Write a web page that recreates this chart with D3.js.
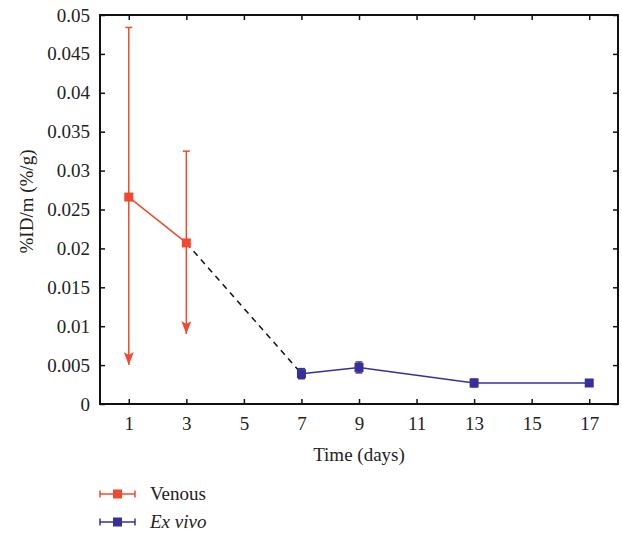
<!DOCTYPE html>
<html>
<head>
<meta charset="utf-8">
<script src="https://cdn.jsdelivr.net/npm/d3@7"></script>
<style>
  body { margin: 0; background: #fff; }
  text { font-family: "Liberation Serif", "DejaVu Serif", serif; fill: #222; }
</style>
</head>
<body>
<div id="chart"></div>
<script>
// data
const venousDays = [1, 3];
const venousMean = [0.0266, 0.0207];
const venousHigh = [0.0484, 0.0325];
const venousLow = [0.0050, 0.0090]; // drawn as arrows

const exvivoDays = [7, 9, 13, 17];
const exvivoMean = [0.0039, 0.0047, 0.0027, 0.0027];
const exvivoErr = [0.00065, 0.0007, 0.0005, 0.0002];

const xTicks = [1, 3, 5, 7, 9, 11, 13, 15, 17];
const yTicks = [0, 0.005, 0.01, 0.015, 0.02, 0.025, 0.03, 0.035, 0.04, 0.045, 0.05];

const red = "#ef4a2e", blue = "#37309a";

const W = 622, H = 533;
const margin = { top: 15, right: 4, bottom: 129, left: 100 },
  width = W - margin.left - margin.right,
  height = H - margin.top - margin.bottom;

const svg = d3.select("#chart").append("svg")
  .attr("width", W).attr("height", H);

svg.append("defs").append("marker")
  .attr("id", "arrow")
  .attr("viewBox", "0 0 10 13")
  .attr("refX", 5).attr("refY", 13)
  .attr("markerWidth", 10).attr("markerHeight", 13)
  .attr("markerUnits", "userSpaceOnUse")
  .attr("orient", "0")
  .append("path")
  .attr("d", "M0,0 L5,3 L10,0 L5,13 Z")
  .attr("fill", red);

const g = svg.append("g").attr("transform", `translate(${margin.left},${margin.top})`);

const x = d3.scaleLinear().domain([0, 18]).range([0, width]);
const y = d3.scaleLinear().domain([0, 0.05]).range([height, 0]);

// axes with inward ticks, mirrored top/right
g.append("g").attr("transform", `translate(0,${height})`)
  .call(d3.axisBottom(x).tickValues(xTicks).tickSize(-5).tickPadding(13).tickFormat(d3.format("d")))
  .call(a => a.selectAll("text").attr("font-size", 19));
g.append("g")
  .call(d3.axisTop(x).tickValues(xTicks).tickSize(-5).tickFormat(""));
g.append("g")
  .call(d3.axisLeft(y).tickValues(yTicks).tickSize(-5).tickPadding(10).tickFormat(d => d === 0 ? "0" : d3.format("")(+d.toFixed(3))))
  .call(a => a.selectAll("text").attr("font-size", 19));
g.append("g").attr("transform", `translate(${width},0)`)
  .call(d3.axisRight(y).tickValues(yTicks).tickSize(-5).tickFormat(""));
g.selectAll(".tick line").attr("stroke", "#111").attr("stroke-width", 1.5);
g.selectAll(".domain").attr("d", null);
g.append("rect").attr("width", width).attr("height", height)
  .attr("fill", "none").attr("stroke", "#111").attr("stroke-width", 2);

// axis titles
g.append("text").attr("x", x(9)).attr("y", height + 57)
  .attr("text-anchor", "middle").attr("font-size", 19).text("Time (days)");
g.append("text")
  .attr("transform", `translate(${-67},${height / 2 - 8}) rotate(-90)`)
  .attr("text-anchor", "middle").attr("font-size", 19).text("%ID/m (%/g)");

// dashed link between series
g.append("line")
  .attr("x1", x(venousDays[1])).attr("y1", y(venousMean[1]))
  .attr("x2", x(exvivoDays[0])).attr("y2", y(exvivoMean[0]))
  .attr("stroke", "#111").attr("stroke-width", 1.5).attr("stroke-dasharray", "6,5");

const line = d3.line().x(d => x(d[0])).y(d => y(d[1]));

// venous
const venous = venousDays.map((d, i) => [d, venousMean[i], venousHigh[i], venousLow[i]]);
g.append("path").datum(venous).attr("d", line)
  .attr("fill", "none").attr("stroke", red).attr("stroke-width", 1.5);
venous.forEach(d => {
  g.append("line").attr("x1", x(d[0])).attr("x2", x(d[0]))
    .attr("y1", y(d[2])).attr("y2", y(d[3]))
    .attr("stroke", red).attr("stroke-width", 1.5)
    .attr("marker-end", "url(#arrow)");
  g.append("line").attr("x1", x(d[0]) - 3.5).attr("x2", x(d[0]) + 3.5)
    .attr("y1", y(d[2])).attr("y2", y(d[2]))
    .attr("stroke", red).attr("stroke-width", 1.5);
  g.append("rect").attr("x", x(d[0]) - 4.5).attr("y", y(d[1]) - 4.5)
    .attr("width", 9).attr("height", 9).attr("fill", red);
});

// ex vivo
const exvivo = exvivoDays.map((d, i) => [d, exvivoMean[i], exvivoErr[i]]);
g.append("path").datum(exvivo).attr("d", line)
  .attr("fill", "none").attr("stroke", blue).attr("stroke-width", 1.5);
exvivo.forEach(d => {
  const t = y(d[1] + d[2]), b = y(d[1] - d[2]);
  g.append("line").attr("x1", x(d[0])).attr("x2", x(d[0])).attr("y1", t).attr("y2", b)
    .attr("stroke", blue).attr("stroke-width", 1.5);
  [t, b].forEach(v => g.append("line").attr("x1", x(d[0]) - 3.5).attr("x2", x(d[0]) + 3.5)
    .attr("y1", v).attr("y2", v).attr("stroke", blue).attr("stroke-width", 1.5));
  g.append("rect").attr("x", x(d[0]) - 4.5).attr("y", y(d[1]) - 4.5)
    .attr("width", 9).attr("height", 9).attr("fill", blue);
});

// legend
const legend = [
  { name: "Venous", color: red, italic: false },
  { name: "Ex vivo", color: blue, italic: true }
];
legend.forEach((l, i) => {
  const ly = 494 + i * 28;
  const lg = svg.append("g");
  lg.append("line").attr("x1", 100).attr("x2", 135).attr("y1", ly).attr("y2", ly)
    .attr("stroke", l.color).attr("stroke-width", 1.5);
  [100, 135].forEach(v => lg.append("line").attr("x1", v).attr("x2", v)
    .attr("y1", ly - 3.5).attr("y2", ly + 3.5).attr("stroke", l.color).attr("stroke-width", 1.5));
  lg.append("rect").attr("x", 113).attr("y", ly - 4.5).attr("width", 9).attr("height", 9).attr("fill", l.color);
  lg.append("text").attr("x", 150).attr("y", ly + 6).attr("font-size", 19)
    .attr("font-style", l.italic ? "italic" : null).text(l.name);
});
</script>
</body>
</html>
